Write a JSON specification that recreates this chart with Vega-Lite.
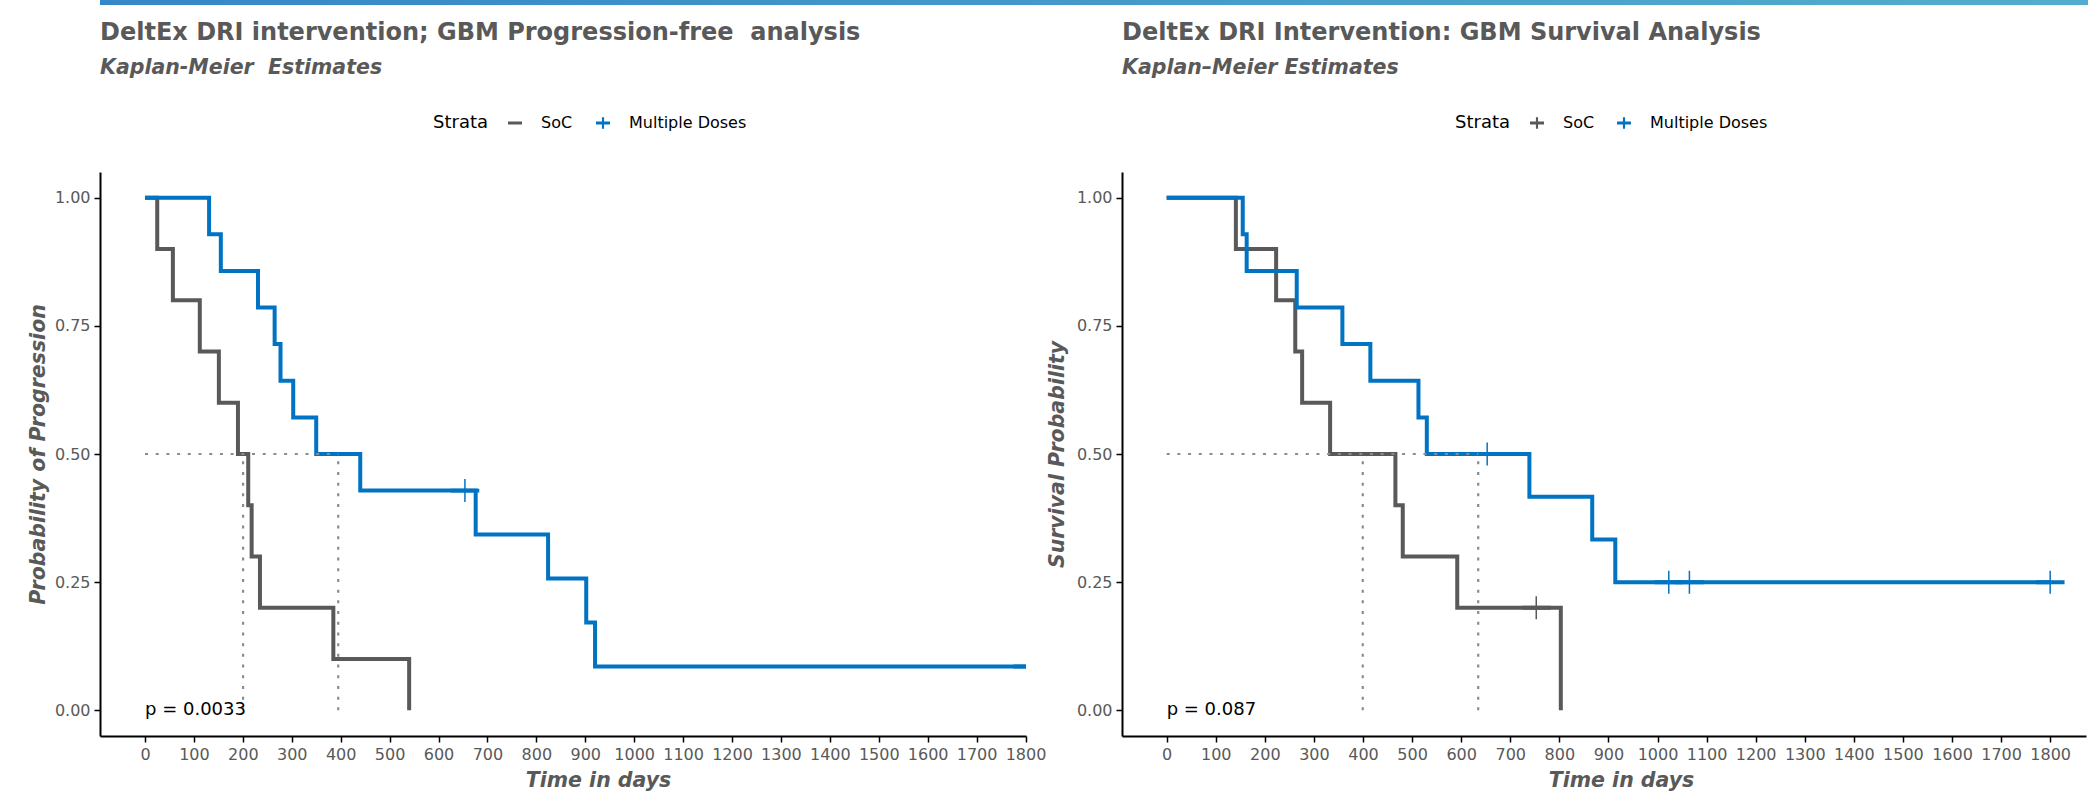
{
  "$schema": "https://vega.github.io/schema/vega-lite/v6.json",
  "background": "white",
  "padding": {"left": 28, "top": 0, "right": 0, "bottom": 0},
  "spacing": 15,
  "datasets": {
    "pfs_curve": [
      {"strata": "SoC", "time": 0, "surv": 1},
      {"strata": "SoC", "time": 25, "surv": 0.9},
      {"strata": "SoC", "time": 57, "surv": 0.8},
      {"strata": "SoC", "time": 112, "surv": 0.7},
      {"strata": "SoC", "time": 151, "surv": 0.6},
      {"strata": "SoC", "time": 190, "surv": 0.5},
      {"strata": "SoC", "time": 211, "surv": 0.4},
      {"strata": "SoC", "time": 218, "surv": 0.3},
      {"strata": "SoC", "time": 235, "surv": 0.2},
      {"strata": "SoC", "time": 385, "surv": 0.1},
      {"strata": "SoC", "time": 540, "surv": 0.0},
      {"strata": "Multiple Doses", "time": 0, "surv": 1},
      {"strata": "Multiple Doses", "time": 131, "surv": 0.9286},
      {"strata": "Multiple Doses", "time": 155, "surv": 0.8571},
      {"strata": "Multiple Doses", "time": 231, "surv": 0.7857},
      {"strata": "Multiple Doses", "time": 265, "surv": 0.7143},
      {"strata": "Multiple Doses", "time": 277, "surv": 0.6429},
      {"strata": "Multiple Doses", "time": 303, "surv": 0.5714},
      {"strata": "Multiple Doses", "time": 350, "surv": 0.5},
      {"strata": "Multiple Doses", "time": 440, "surv": 0.4286},
      {"strata": "Multiple Doses", "time": 676, "surv": 0.3429},
      {"strata": "Multiple Doses", "time": 824, "surv": 0.2571},
      {"strata": "Multiple Doses", "time": 902, "surv": 0.1714},
      {"strata": "Multiple Doses", "time": 920, "surv": 0.0857},
      {"strata": "Multiple Doses", "time": 1805, "surv": 0.0857}
    ],
    "pfs_censor": [
      {"strata": "Multiple Doses", "time": 654, "surv": 0.4286},
      {"strata": "Multiple Doses", "time": 1805, "surv": 0.0857}
    ],
    "pfs_median": [
      {"x": 0, "x2": 395, "y": 0.5, "y2": 0.5},
      {"x": 200.5, "x2": 200.5, "y": 0, "y2": 0.5},
      {"x": 395, "x2": 395, "y": 0, "y2": 0.5}
    ],
    "pfs_p": [{"time": 0, "surv": 0, "label": "p = 0.0033"}],
    "os_curve": [
      {"strata": "SoC", "time": 0, "surv": 1},
      {"strata": "SoC", "time": 141, "surv": 0.9},
      {"strata": "SoC", "time": 223, "surv": 0.8},
      {"strata": "SoC", "time": 262, "surv": 0.7},
      {"strata": "SoC", "time": 276, "surv": 0.6},
      {"strata": "SoC", "time": 333, "surv": 0.5},
      {"strata": "SoC", "time": 466, "surv": 0.4},
      {"strata": "SoC", "time": 481, "surv": 0.3},
      {"strata": "SoC", "time": 592, "surv": 0.2},
      {"strata": "SoC", "time": 803, "surv": 0.0},
      {"strata": "Multiple Doses", "time": 0, "surv": 1},
      {"strata": "Multiple Doses", "time": 155, "surv": 0.9286},
      {"strata": "Multiple Doses", "time": 163, "surv": 0.8571},
      {"strata": "Multiple Doses", "time": 265, "surv": 0.7857},
      {"strata": "Multiple Doses", "time": 358, "surv": 0.7143},
      {"strata": "Multiple Doses", "time": 415, "surv": 0.6429},
      {"strata": "Multiple Doses", "time": 513, "surv": 0.5714},
      {"strata": "Multiple Doses", "time": 530, "surv": 0.5},
      {"strata": "Multiple Doses", "time": 739, "surv": 0.4167},
      {"strata": "Multiple Doses", "time": 867, "surv": 0.3333},
      {"strata": "Multiple Doses", "time": 914, "surv": 0.25},
      {"strata": "Multiple Doses", "time": 1800, "surv": 0.25}
    ],
    "os_censor": [
      {"strata": "SoC", "time": 753, "surv": 0.2},
      {"strata": "Multiple Doses", "time": 653, "surv": 0.5},
      {"strata": "Multiple Doses", "time": 1023, "surv": 0.25},
      {"strata": "Multiple Doses", "time": 1065, "surv": 0.25},
      {"strata": "Multiple Doses", "time": 1800, "surv": 0.25}
    ],
    "os_median": [
      {"x": 0, "x2": 634.75, "y": 0.5, "y2": 0.5},
      {"x": 399.5, "x2": 399.5, "y": 0, "y2": 0.5},
      {"x": 634.75, "x2": 634.75, "y": 0, "y2": 0.5}
    ],
    "os_p": [{"time": 0, "surv": 0, "label": "p = 0.087"}],
    "bar": [{"start": 0, "end": 1}]
  },
  "vconcat": [
    {
      "width": 2060,
      "height": 5,
      "data": {"name": "bar"},
      "mark": {"type": "rect", "fill": {"gradient": "linear", "x1": 0, "x2": 1, "y1": 0, "y2": 0, "stops": [{"offset": 0, "color": "#3587C7"}, {"offset": 1, "color": "#53AFCC"}]}},
      "encoding": {
        "x": {"field": "start", "type": "quantitative", "scale": {"domain": [0, 1]}, "axis": null},
        "x2": {"field": "end"}
      }
    },
    {
      "hconcat": [
        {
          "title": {"text": "DeltEx DRI intervention; GBM Progression-free\u00a0 analysis", "subtitle": "Kaplan-Meier\u00a0 Estimates"},
          "width": 926,
          "height": 564,
          "layer": [
            {
              "data": {"name": "pfs_censor"},
              "mark": {"type": "point", "filled": true, "size": 529, "opacity": 1, "clip": true},
              "encoding": {
                "x": {"field": "time", "type": "quantitative", "title": "Time in days", "scale": {"domain": [-92, 1801], "nice": false, "zero": false}, "axis": {"values": [0,100,200,300,400,500,600,700,800,900,1000,1100,1200,1300,1400,1500,1600,1700,1800], "format": "d", "labelOverlap": false, "labelFlush": false, "titleX": 498, "titlePadding": 8}},
                "y": {"field": "surv", "type": "quantitative", "title": "Probability of Progression", "scale": {"domain": [-0.05, 1.05], "nice": false, "zero": false}, "axis": {"values": [0, 0.25, 0.5, 0.75, 1], "format": ".2f", "titlePadding": 6}},
                "color": {"field": "strata", "type": "nominal", "scale": {"domain": ["SoC", "Multiple Doses"], "range": ["#595959", "#0073C2"]}, "legend": {"title": "Strata", "orient": "none", "legendX": 333, "legendY": -57, "direction": "horizontal", "titleOrient": "left", "labelOffset": 18, "columnPadding": 20, "titlePadding": 18}},
                "shape": {"field": "strata", "type": "nominal", "scale": {"domain": ["SoC", "Multiple Doses"], "range": ["M-1.25,-0.17H1.25V0.17H-1.25Z", "M-1.25,-0.17H1.25V0.17H-1.25Z M-0.065,-1H0.065V1H-0.065Z"]}, "legend": {"title": "Strata", "orient": "none", "legendX": 333, "legendY": -57, "direction": "horizontal", "titleOrient": "left", "labelOffset": 18, "columnPadding": 20, "titlePadding": 18}}
              }
            },
            {
              "data": {"name": "pfs_curve"},
              "mark": {"type": "line", "interpolate": "step-after", "strokeWidth": 4, "clip": true},
              "encoding": {
                "x": {"field": "time", "type": "quantitative"},
                "y": {"field": "surv", "type": "quantitative"},
                "color": {"field": "strata", "type": "nominal"}
              }
            },
            {
              "data": {"name": "pfs_median"},
              "mark": {"type": "rule", "color": "#8c8c8c", "strokeWidth": 2.2, "strokeDash": [3, 7.7]},
              "encoding": {
                "x": {"field": "x", "type": "quantitative"},
                "x2": {"field": "x2"},
                "y": {"field": "y", "type": "quantitative"},
                "y2": {"field": "y2"}
              }
            },
            {
              "data": {"name": "pfs_p"},
              "mark": {"type": "text", "align": "left", "baseline": "middle", "font": "DejaVu Sans", "fontSize": 18, "color": "black"},
              "encoding": {
                "x": {"field": "time", "type": "quantitative"},
                "y": {"field": "surv", "type": "quantitative"},
                "text": {"field": "label"}
              }
            }
          ]
        },
        {
          "title": {"text": "DeltEx DRI Intervention: GBM Survival Analysis", "subtitle": "Kaplan–Meier Estimates"},
          "width": 964,
          "height": 564,
          "layer": [
            {
              "data": {"name": "os_censor"},
              "mark": {"type": "point", "filled": true, "size": 529, "opacity": 1, "clip": true},
              "encoding": {
                "x": {"field": "time", "type": "quantitative", "title": "Time in days", "scale": {"domain": [-91, 1873], "nice": false, "zero": false}, "axis": {"values": [0,100,200,300,400,500,600,700,800,900,1000,1100,1200,1300,1400,1500,1600,1700,1800], "format": "d", "labelOverlap": false, "labelFlush": false, "titleX": 499, "titlePadding": 8}},
                "y": {"field": "surv", "type": "quantitative", "title": "Survival Probability", "scale": {"domain": [-0.05, 1.05], "nice": false, "zero": false}, "axis": {"values": [0, 0.25, 0.5, 0.75, 1], "format": ".2f", "titlePadding": 9}},
                "color": {"field": "strata", "type": "nominal", "scale": {"domain": ["SoC", "Multiple Doses"], "range": ["#595959", "#0073C2"]}, "legend": {"title": "Strata", "orient": "none", "legendX": 333, "legendY": -57, "direction": "horizontal", "titleOrient": "left", "labelOffset": 18, "columnPadding": 19, "titlePadding": 18}},
                "shape": {"field": "strata", "type": "nominal", "scale": {"domain": ["SoC", "Multiple Doses"], "range": ["M-1.25,-0.17H1.25V0.17H-1.25Z M-0.065,-1H0.065V1H-0.065Z", "M-1.25,-0.17H1.25V0.17H-1.25Z M-0.065,-1H0.065V1H-0.065Z"]}, "legend": {"title": "Strata", "orient": "none", "legendX": 333, "legendY": -57, "direction": "horizontal", "titleOrient": "left", "labelOffset": 18, "columnPadding": 19, "titlePadding": 18}}
              }
            },
            {
              "data": {"name": "os_curve"},
              "mark": {"type": "line", "interpolate": "step-after", "strokeWidth": 4, "clip": true},
              "encoding": {
                "x": {"field": "time", "type": "quantitative"},
                "y": {"field": "surv", "type": "quantitative"},
                "color": {"field": "strata", "type": "nominal"}
              }
            },
            {
              "data": {"name": "os_median"},
              "mark": {"type": "rule", "color": "#8c8c8c", "strokeWidth": 2.2, "strokeDash": [3, 7.7]},
              "encoding": {
                "x": {"field": "x", "type": "quantitative"},
                "x2": {"field": "x2"},
                "y": {"field": "y", "type": "quantitative"},
                "y2": {"field": "y2"}
              }
            },
            {
              "data": {"name": "os_p"},
              "mark": {"type": "text", "align": "left", "baseline": "middle", "font": "DejaVu Sans", "fontSize": 18, "color": "black"},
              "encoding": {
                "x": {"field": "time", "type": "quantitative"},
                "y": {"field": "surv", "type": "quantitative"},
                "text": {"field": "label"}
              }
            }
          ]
        }
      ],
      "spacing": 96,
      "bounds": "flush",
      "resolve": {"scale": {"x": "independent", "y": "independent", "color": "independent", "shape": "independent"}, "legend": {"color": "independent", "shape": "independent"}}
    }
  ],
  "config": {
    "view": {"stroke": null},
    "font": "DejaVu Sans",
    "axis": {
      "grid": false,
      "domainColor": "black",
      "domainWidth": 2,
      "tickColor": "black",
      "tickWidth": 1.5,
      "tickSize": 6,
      "labelFont": "DejaVu Sans",
      "labelFontSize": 16,
      "labelColor": "#595959",
      "labelPadding": 4,
      "titleFont": "DejaVu Sans",
      "titleFontSize": 20.5,
      "titleFontWeight": "bold",
      "titleFontStyle": "italic",
      "titleColor": "#595959"
    },
    "legend": {
      "labelFont": "DejaVu Sans",
      "labelFontSize": 16,
      "labelColor": "black",
      "titleFont": "DejaVu Sans",
      "titleFontSize": 18,
      "titleFontWeight": "normal",
      "titleColor": "black"
    },
    "title": {
      "font": "DejaVu Sans",
      "fontSize": 24,
      "fontWeight": "bold",
      "color": "#595959",
      "subtitleFont": "DejaVu Sans",
      "subtitleFontSize": 20.5,
      "subtitleFontWeight": "bold",
      "subtitleFontStyle": "italic",
      "subtitleColor": "#595959",
      "subtitlePadding": 13,
      "anchor": "start",
      "frame": "group",
      "offset": 37
    }
  }
}
